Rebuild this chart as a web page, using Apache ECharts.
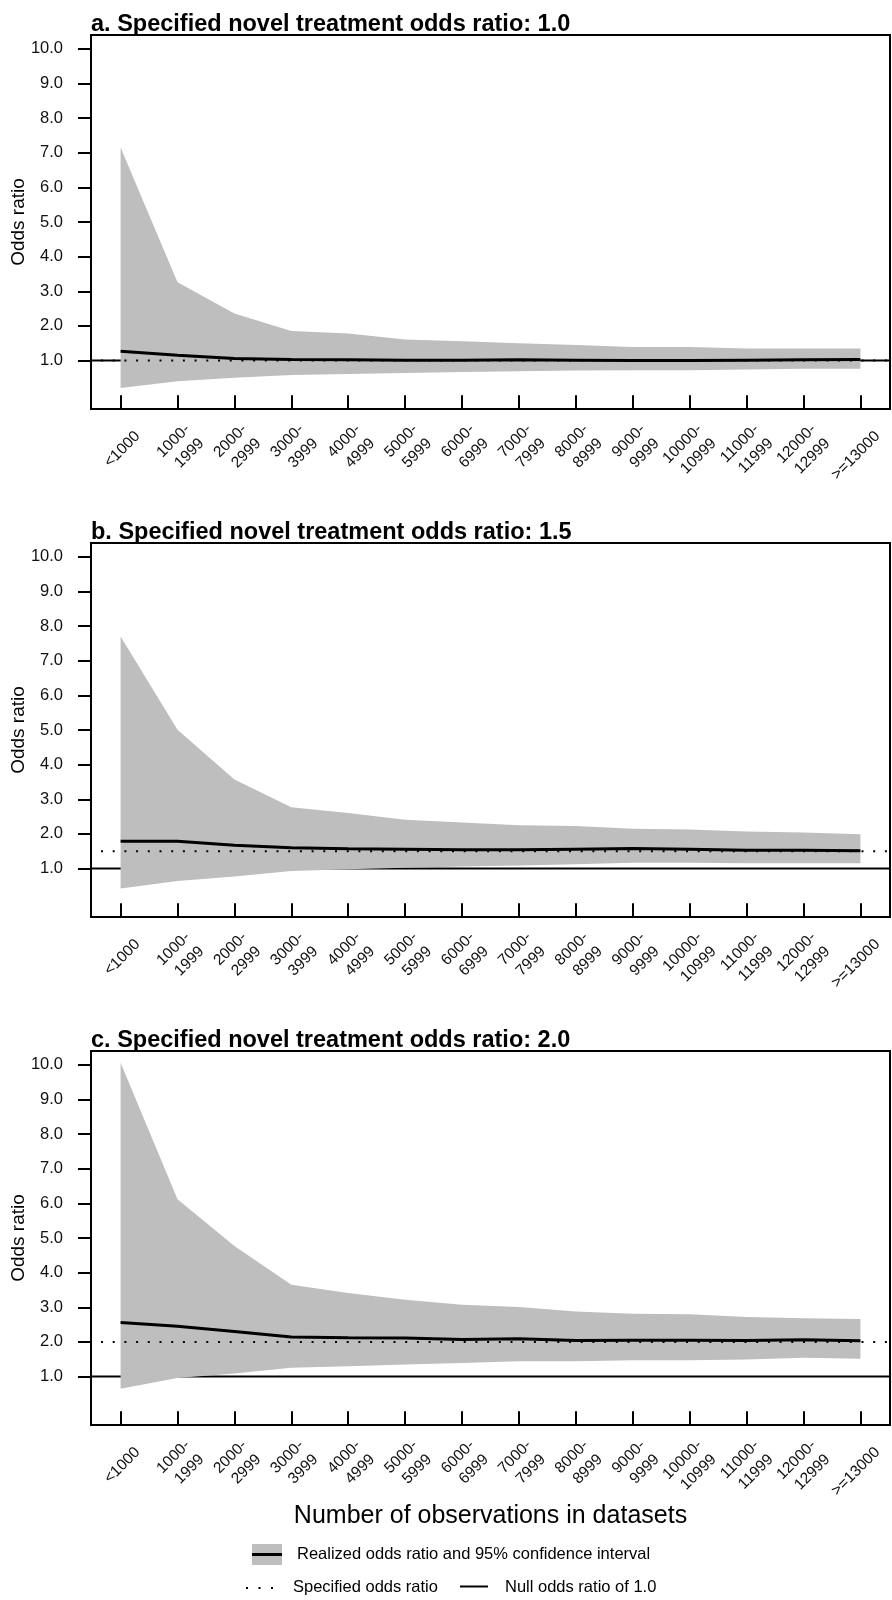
<html lang="en">
<head>
  <meta charset="UTF-8">
  <title>Odds ratio by dataset size</title>
  <style>
    *{
      margin: 0;
      padding: 0;
    }
    #main{
      width: 892px;
      height: 1600px;
      background: #ffffff;
    }
  </style>
</head>
<body>
  <div id="main"></div>

  <script src="https://cdn.jsdelivr.net/npm/echarts@6/dist/echarts.min.js"></script>
  <script type="text/javascript">
  // x categories (number of observations)
  var categories = ['<1000', '1000-\n1999', '2000-\n2999', '3000-\n3999', '4000-\n4999', '5000-\n5999', '6000-\n6999',
    '7000-\n7999', '8000-\n8999', '9000-\n9999', '10000-\n10999', '11000-\n11999', '12000-\n12999', '>=13000'];
  var yTicks = [1, 2, 3, 4, 5, 6, 7, 8, 9, 10];

  // panel a: specified OR 1.0
  var upperA = [7.15, 3.26, 2.36, 1.85, 1.78, 1.61, 1.56, 1.50, 1.45, 1.39, 1.39, 1.35, 1.35, 1.35];
  var lowerA = [0.21, 0.40, 0.50, 0.58, 0.61, 0.64, 0.67, 0.69, 0.71, 0.72, 0.72, 0.74, 0.76, 0.76];
  var realA  = [1.27, 1.15, 1.06, 1.03, 1.02, 1.01, 1.01, 1.02, 1.01, 1.00, 1.00, 1.01, 1.02, 1.03];

  // panel b: specified OR 1.5
  var upperB = [7.70, 5.01, 3.57, 2.77, 2.60, 2.41, 2.33, 2.25, 2.23, 2.15, 2.13, 2.07, 2.04, 1.99];
  var lowerB = [0.42, 0.64, 0.77, 0.93, 0.98, 1.02, 1.06, 1.09, 1.12, 1.17, 1.17, 1.15, 1.15, 1.15];
  var realB  = [1.79, 1.79, 1.67, 1.60, 1.57, 1.56, 1.54, 1.54, 1.56, 1.58, 1.56, 1.53, 1.53, 1.51];

  // panel c: specified OR 2.0
  var upperC = [10.06, 6.12, 4.77, 3.65, 3.41, 3.22, 3.07, 3.01, 2.88, 2.81, 2.80, 2.72, 2.68, 2.66];
  var lowerC = [0.65, 0.96, 1.09, 1.25, 1.30, 1.35, 1.39, 1.44, 1.44, 1.47, 1.47, 1.49, 1.54, 1.51];
  var realC  = [2.56, 2.45, 2.30, 2.14, 2.12, 2.11, 2.07, 2.09, 2.04, 2.05, 2.05, 2.04, 2.06, 2.03];

  var specifiedOR = [1.0, 1.5, 2.0];
  var nullOR = 1.0;
  var titles = [
    'a. Specified novel treatment odds ratio: 1.0',
    'b. Specified novel treatment odds ratio: 1.5',
    'c. Specified novel treatment odds ratio: 2.0'
  ];

  var FONT = '"Liberation Sans", Arial, Helvetica, sans-serif';
  var X_MIN = 0.48, X_MAX = 14.52;   // R's 4% padding round 1..14
  var Y_MIN = -0.4, Y_MAX = 10.4;    // same for 0..10
  var LABEL_SHIFT = 0.3;             // rotated labels sit a bit right of the ticks

  var panels = [
    {upper: upperA, lower: lowerA, real: realA},
    {upper: upperB, lower: lowerB, real: realB},
    {upper: upperC, lower: lowerC, real: realC}
  ];
  var gridTops = [35, 543, 1051];

  var pos = categories.map(function (c, i) { return i + 1; });

  // one polygon for the whole confidence band
  function renderBand(params, api) {
    if (params.dataIndex !== 0) return null;
    var n = params.dataInsideLength;
    var pts = [];
    for (var i = 0; i < n; i++) pts.push(api.coord([api.value(0, i), api.value(2, i)]));
    for (var j = n - 1; j >= 0; j--) pts.push(api.coord([api.value(0, j), api.value(1, j)]));
    return {type: 'polygon', shape: {points: pts}, style: {fill: '#bebebe'}};
  }

  var option = {
    animation: false,
    backgroundColor: '#ffffff',
    textStyle: {fontFamily: FONT},
    title: [],
    grid: [],
    xAxis: [],
    yAxis: [],
    series: [],
    graphic: []
  };

  panels.forEach(function (p, k) {
    option.title.push({
      text: titles[k],
      left: 91,
      top: gridTops[k] - 22,
      padding: 0,
      textStyle: {fontSize: 23.5, fontWeight: 'bold', color: '#000', fontFamily: FONT}
    });
    option.grid.push({
      left: 91, right: 2, top: gridTops[k], height: 374,
      outerBoundsMode: 'none', containLabel: false,
      show: true, borderColor: '#000', borderWidth: 2
    });
    option.xAxis.push({
      type: 'value', gridIndex: k,
      min: X_MIN, max: X_MAX,
      axisLine: {show: false},
      splitLine: {show: false},
      axisTick: {show: true, length: 13, lineStyle: {color: '#000', width: 2}, customValues: pos},
      axisLabel: {
        rotate: 45, margin: 25, fontSize: 15.5, lineHeight: 20, color: '#111', fontFamily: FONT,
        customValues: pos.map(function (v) { return v + LABEL_SHIFT; }),
        formatter: function (v) { return categories[Math.round(v - LABEL_SHIFT) - 1] || ''; }
      },
      name: k === 2 ? 'Number of observations in datasets' : '',
      nameLocation: 'middle',
      nameGap: 72,
      nameTextStyle: {fontSize: 25, color: '#000', fontFamily: FONT}
    });
    option.yAxis.push({
      type: 'value', gridIndex: k,
      min: Y_MIN, max: Y_MAX,
      axisLine: {show: false},
      splitLine: {show: false},
      axisTick: {show: true, length: 13, lineStyle: {color: '#000', width: 2}, customValues: yTicks},
      axisLabel: {
        margin: 28, fontSize: 16.5, color: '#111', fontFamily: FONT,
        customValues: yTicks,
        formatter: function (v) { return v.toFixed(1); }
      },
      name: 'Odds ratio',
      nameLocation: 'middle',
      nameRotate: 90,
      nameGap: 63,
      nameMoveOverlap: false,
      nameTextStyle: {fontSize: 19, color: '#000', fontFamily: FONT}
    });

    // null odds ratio line, under the band
    option.series.push({
      name: 'Null odds ratio of 1.0',
      type: 'line', xAxisIndex: k, yAxisIndex: k, z: 1,
      symbol: 'none', silent: true,
      lineStyle: {color: '#000', width: 2},
      data: [[X_MIN, nullOR], [X_MAX, nullOR]]
    });
    // gray confidence band
    option.series.push({
      name: 'Realized odds ratio and 95% confidence interval',
      type: 'custom', xAxisIndex: k, yAxisIndex: k, z: 2,
      silent: true,
      renderItem: renderBand,
      data: pos.map(function (x, i) { return [x, p.lower[i], p.upper[i]]; })
    });
    // specified odds ratio, dotted
    option.series.push({
      name: 'Specified odds ratio',
      type: 'line', xAxisIndex: k, yAxisIndex: k, z: 3,
      symbol: 'none', silent: true,
      lineStyle: {color: '#000', width: 2, type: [2, 9.7], dashOffset: 1.7},
      data: [[X_MIN, specifiedOR[k]], [X_MAX, specifiedOR[k]]]
    });
    // realized odds ratio
    option.series.push({
      name: 'Realized odds ratio',
      type: 'line', xAxisIndex: k, yAxisIndex: k, z: 4,
      symbol: 'none', silent: true,
      lineStyle: {color: '#000', width: 3},
      data: p.real.map(function (v, i) { return [pos[i], v]; })
    });
  });

  // legend at the bottom
  option.graphic = [
    {type: 'rect', left: 252, top: 1544, shape: {width: 30, height: 21}, style: {fill: '#bebebe'}},
    {type: 'line', shape: {x1: 252, y1: 1554.5, x2: 282, y2: 1554.5}, style: {stroke: '#000', lineWidth: 3}},
    {type: 'text', x: 297, y: 1554.5, style: {text: 'Realized odds ratio and 95% confidence interval', font: '16.5px ' + FONT, fill: '#000', verticalAlign: 'middle'}},
    {type: 'line', shape: {x1: 246, y1: 1588, x2: 274, y2: 1588}, style: {stroke: '#000', lineWidth: 2, lineDash: [2, 10.5]}},
    {type: 'text', x: 293, y: 1587, style: {text: 'Specified odds ratio', font: '16.5px ' + FONT, fill: '#000', verticalAlign: 'middle'}},
    {type: 'line', shape: {x1: 460, y1: 1586.5, x2: 488, y2: 1586.5}, style: {stroke: '#000', lineWidth: 2}},
    {type: 'text', x: 505, y: 1587, style: {text: 'Null odds ratio of 1.0', font: '16.5px ' + FONT, fill: '#000', verticalAlign: 'middle'}}
  ];

  var myChart = echarts.init(document.getElementById('main'));
  myChart.setOption(option);
  </script>
</body>
</html>
